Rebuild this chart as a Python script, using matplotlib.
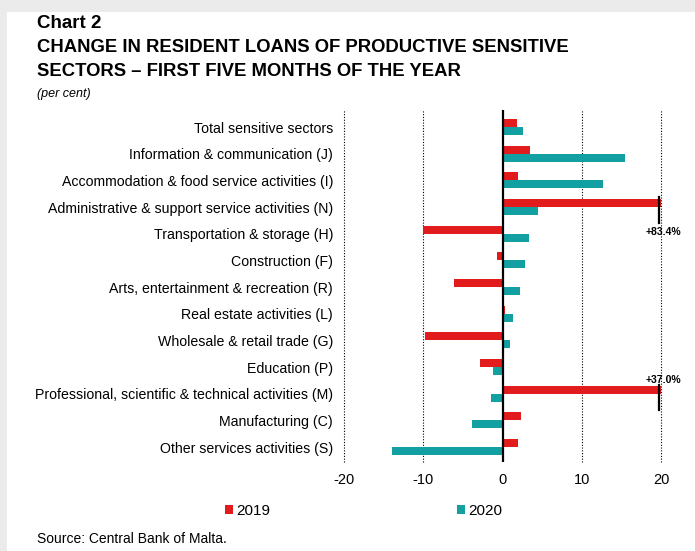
import matplotlib.pyplot as plt
from matplotlib.patches import Rectangle, Patch

plt.rcParams['font.family'] = ['Liberation Sans', 'DejaVu Sans']

sectors = [
    "Total sensitive sectors",
    "Information & communication (J)",
    "Accommodation & food service activities (I)",
    "Administrative & support service activities (N)",
    "Transportation & storage (H)",
    "Construction (F)",
    "Arts, entertainment & recreation (R)",
    "Real estate activities (L)",
    "Wholesale & retail trade (G)",
    "Education (P)",
    "Professional, scientific & technical activities (M)",
    "Manufacturing (C)",
    "Other services activities (S)",
]
change_2019 = [1.8, 3.5, 2.0, 83.4, -10.0, -0.7, -6.1, 0.3, -9.8, -2.8, 37.0, 2.35, 2.0]
change_2020 = [2.55, 15.5, 12.7, 4.5, 3.3, 2.9, 2.2, 1.3, 1.0, -1.2, -1.4, -3.8, -13.9]
xticks = [-20, -10, 0, 10, 20]

RED = '#e21c1c'
TEAL = '#12a0a2'

fig = plt.figure(figsize=(6.95, 5.51), dpi=100)

# light grey frame along the top and left edges
fig.patches.append(Rectangle((0, 1 - 12 / 551), 1, 12 / 551, transform=fig.transFigure,
                             facecolor='#ebebeb', edgecolor='none', zorder=0))
fig.patches.append(Rectangle((0, 0), 7 / 695, 1, transform=fig.transFigure,
                             facecolor='#ebebeb', edgecolor='none', zorder=0))

ax = fig.add_axes([344 / 695, 1 - 462 / 551, (661 - 344) / 695, (462 - 110) / 551])

pos = list(range(len(sectors)))
h = 0.3
ax.barh([p - h / 2 for p in pos], change_2019, height=h, color=RED, zorder=3)
ax.barh([p + h / 2 for p in pos], change_2020, height=h, color=TEAL, zorder=3)

ax.set_xlim(-20, 20)
ax.set_ylim(len(sectors) - 1 + 0.56, -0.64)

ax.set_yticks(pos)
ax.set_yticklabels(sectors, fontsize=10.2)
ax.set_xticks(xticks)
ax.set_xticklabels([str(t) for t in xticks], fontsize=10.5)
ax.tick_params(axis='both', length=0)
ax.tick_params(axis='y', pad=8)
ax.tick_params(axis='x', pad=8)
for s in ax.spines.values():
    s.set_visible(False)

for t in [-20, -10, 10, 20]:
    ax.axvline(t, color='black', lw=0.8, linestyle=(0, (1, 1.5)), zorder=1, clip_on=False)
ax.axvline(0, color='black', lw=1.6, zorder=4)

# truncated bars: break marker and actual value
for i, v in enumerate(change_2019):
    if v > 20:
        if i == 3:
            ax.plot([19.75, 19.75], [i - 0.38, i + 0.6], color='black', lw=1.6,
                    clip_on=False, zorder=5)
            ty = i + 0.94
        else:
            ax.plot([19.75, 19.75], [i - 0.33, i + 0.61], color='black', lw=1.6,
                    clip_on=False, zorder=5)
            ty = i - 0.51
        ax.text(20.3, ty, f"+{v:.1f}%", ha='center', va='center', fontsize=7.5,
                fontweight='bold', clip_on=False, zorder=6)

handles = [Patch(facecolor=RED, edgecolor='none', label='2019'),
           Patch(facecolor=TEAL, edgecolor='none', label='2020')]
fig.legend(handles=handles, loc='center left', bbox_to_anchor=(225 / 695, 1 - 511 / 551),
           ncol=2, frameon=False, fontsize=11, handlelength=0.55, handleheight=0.55,
           handletextpad=0.2, columnspacing=12.2, borderaxespad=0, borderpad=0)

title_font = ['Liberation Sans Narrow', 'Liberation Sans', 'DejaVu Sans']
fig.text(37 / 695, 1 - 23 / 551, "Chart 2", fontsize=13.5, fontweight='bold',
         family=title_font, va='center', ha='left')
fig.text(37 / 695, 1 - 48 / 551, "CHANGE IN RESIDENT LOANS OF PRODUCTIVE SENSITIVE",
         fontsize=13.3, fontweight='bold', family=title_font, va='center', ha='left')
fig.text(37 / 695, 1 - 72 / 551, "SECTORS \u2013 FIRST FIVE MONTHS OF THE YEAR",
         fontsize=13.3, fontweight='bold', family=title_font, va='center', ha='left')
fig.text(37 / 695, 1 - 94 / 551, "(per cent)", fontsize=9, style='italic',
         va='center', ha='left')
fig.text(37 / 695, 1 - 539 / 551, "Source: Central Bank of Malta.", fontsize=10,
         va='center', ha='left')

fig.savefig('out.png', dpi=100)
